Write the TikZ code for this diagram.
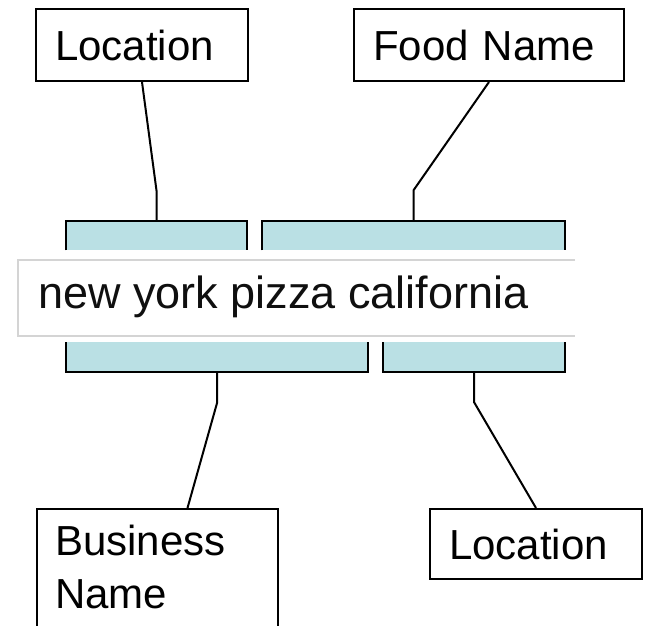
\documentclass[tikz,border=0pt]{standalone}
\usepackage{fontspec}
\setmainfont{Liberation Sans}
\definecolor{segfill}{RGB}{186,224,228}
\definecolor{barline}{RGB}{212,212,212}
\definecolor{querytext}{RGB}{15,15,15}
\begin{document}
\begin{tikzpicture}[x=1pt,y=-1pt,
  labelbox/.style={draw=black,line width=2pt,fill=white,anchor=north west,
    inner xsep=19pt,inner ysep=0pt,align=left,font=\fontsize{42}{53}\selectfont},
  segment/.style={fill=segfill,draw=none,anchor=north west,inner sep=0pt},
  segedge/.style={draw=black,line width=2pt},
  link/.style={draw=black,line width=2pt}]
\useasboundingbox (0,0) rectangle (646,626);
\begin{scope}
\clip (0,0) rectangle (646,626);

% query field
\draw[barline,line width=2pt] (575,260) -- (18,260) -- (18,336) -- (575,336);
\node[anchor=base west,inner sep=0pt,text=querytext,font=\fontsize{45}{54}\selectfont]
  (query) at (38,308) {new york pizza california};

% segments above the query
\node[segment,minimum width=181pt,minimum height=29pt] (seg1) at (66,221) {};
\node[segment,minimum width=303pt,minimum height=29pt] (seg2) at (262,221) {};
\draw[segedge] (seg1.south west) -- (seg1.north west) -- (seg1.north east) -- (seg1.south east);
\draw[segedge] (seg2.south west) -- (seg2.north west) -- (seg2.north east) -- (seg2.south east);

% segments below the query
\node[segment,minimum width=302pt,minimum height=30pt] (seg3) at (66,342) {};
\node[segment,minimum width=182pt,minimum height=30pt] (seg4) at (383,342) {};
\draw[segedge] (seg3.north west) -- (seg3.south west) -- (seg3.south east) -- (seg3.north east);
\draw[segedge] (seg4.north west) -- (seg4.south west) -- (seg4.south east) -- (seg4.north east);

% label boxes
\node[labelbox,minimum width=212pt,minimum height=72pt,text width=174pt] (loc1) at (35,8) {Location};
\node[labelbox,minimum width=270pt,minimum height=72pt,text width=232pt] (food) at (353,8) {Food Name};
\node[labelbox,minimum width=212pt,minimum height=70pt,text width=174pt] (loc2) at (429,508) {Location};
\node[draw=black,line width=2pt,fill=white,anchor=north west,minimum width=241pt,
  minimum height=160pt,inner sep=0pt] (biz) at (36,508) {};
% the base anchor of a two-line node sits on its last line
\node[anchor=base west,inner sep=0pt,align=left,font=\fontsize{42}{53}\selectfont]
  (biztext) at (55,608) {Business\\Name};

% connectors
\draw[link] (loc1.south) -- ([yshift=29pt]seg1.north) -- (seg1.north);
\draw[link] (food.south) -- ([yshift=31pt]seg2.north) -- (seg2.north);
\draw[link] (seg3.south) -- ([yshift=-30pt]seg3.south) -- ([xshift=30pt]biz.north);
\draw[link] (seg4.south) -- ([yshift=-30pt]seg4.south) -- (loc2.north);
\end{scope}
\end{tikzpicture}
\end{document}
